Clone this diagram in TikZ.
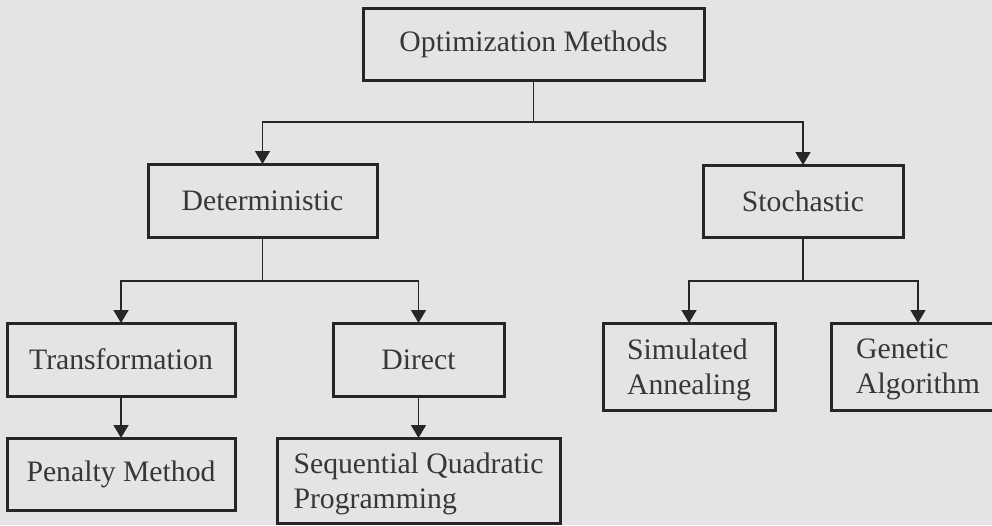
\documentclass[tikz,border=0pt]{standalone}
\usepackage{fontspec}
\setmainfont{Liberation Serif}
\usetikzlibrary{arrows.meta}
\definecolor{paper}{RGB}{228,228,230}
\definecolor{ink}{RGB}{38,38,38}
\definecolor{txt}{RGB}{55,55,55}
\begin{document}
\begin{tikzpicture}[x=1pt,y=-1pt,
  box/.style={draw=ink, line width=3pt, outer sep=0pt, inner sep=0pt,
    text=txt, font=\fontsize{29.7}{35}\selectfont, align=left},
  twoline/.style={text depth=0pt},
  link/.style={draw=ink, line width=1.5pt},
  arr/.style={link, -{Triangle[width=15pt,length=13pt]}}]
  % page and background
  \useasboundingbox (0,0) rectangle (992,525);
  \fill[paper] (0,0) rectangle (992,525);
  \clip (0,0) rectangle (992,525);

  % boxes
  \node[box, minimum width=341pt, minimum height=72pt] (om)  at (533.5,44)  {Optimization Methods};
  \node[box, minimum width=229pt, minimum height=73pt] (det) at (262.5,200.5) {Deterministic};
  \node[box, minimum width=200pt, minimum height=72pt] (sto) at (803,201)   {Stochastic};
  \node[box, minimum width=228pt, minimum height=73pt] (tra) at (121,359.5) {Transformation};
  \node[box, minimum width=171pt, minimum height=73pt] (dir) at (418.5,359.5) {Direct};
  \node[box, minimum width=228pt, minimum height=72pt] (pen) at (121,474)   {Penalty Method};
  \node[box, twoline, minimum width=283pt, minimum height=85pt] (sqp) at (418.5,480.5) {Sequential Quadratic\\Programming};
  \node[box, twoline, minimum width=172pt, minimum height=87pt] (sim) at (689,366.5) {Simulated\\Annealing};
  \node[box, twoline, minimum width=174pt, minimum height=87pt] (gen) at (918,366.5) {Genetic\\Algorithm};

  % connectors
  \coordinate (jo) at (533.5,122);
  \coordinate (jd) at (262.5,281);
  \coordinate (js) at (803,281);
  \draw[link] (om.south) -- (jo);
  \draw[arr] (jo) -| (det.north);
  \draw[arr] (jo) -| (sto.north);
  \draw[link] (det.south) -- (jd);
  \draw[arr] (jd) -| (tra.north);
  \draw[arr] (jd) -| (dir.north);
  \draw[link] (sto.south) -- (js);
  \draw[arr] (js) -| (sim.north);
  \draw[arr] (js) -| (gen.north);
  \draw[arr] (tra.south) -- (pen.north);
  \draw[arr] (dir.south) -- (sqp.north);
\end{tikzpicture}
\end{document}
